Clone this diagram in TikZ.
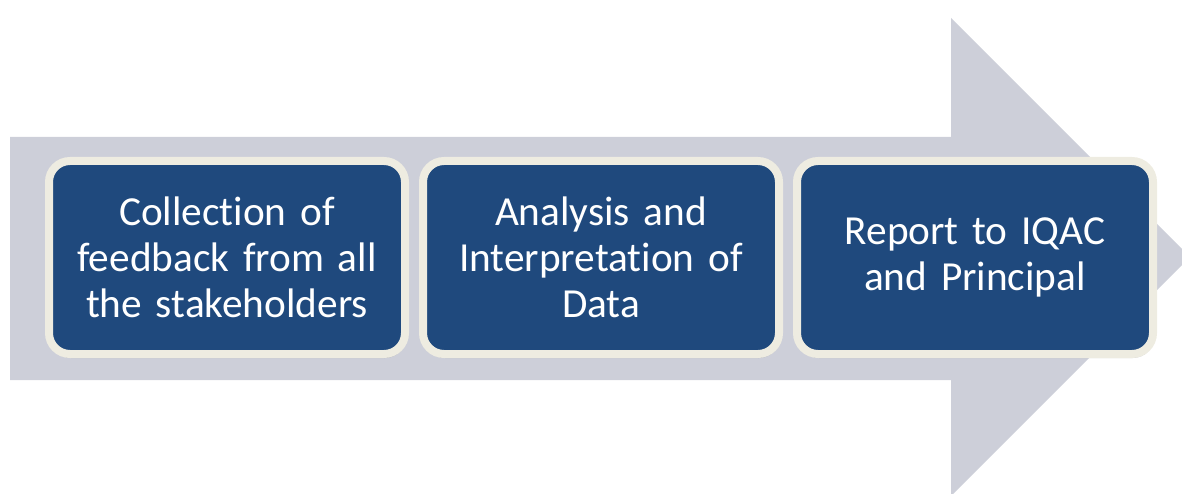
\documentclass[tikz,border=0pt]{standalone}
\usepackage{fontspec}
\setmainfont{Carlito}[WordSpace=0.8, Ligatures=NoCommon]
\usetikzlibrary{shadows}
\definecolor{arrowgray}{HTML}{CDCFD9}
\definecolor{boxblue}{HTML}{1F497D}
\definecolor{boxcream}{HTML}{EEECE1}
\tikzset{
  stepbox/.style={rectangle, rounded corners=21pt, draw=boxcream, line width=8pt,
    fill=boxblue, minimum width=356pt, minimum height=193pt, text width=340pt,
    align=center, text=white, font=\fontsize{41.3}{46}\selectfont,
    drop shadow={shadow xshift=1pt, shadow yshift=-4pt, opacity=0.25, fill=black!70}}
}
\begin{document}
\begin{tikzpicture}[x=1pt,y=-1pt]
\useasboundingbox (0,0) rectangle (1182,494);
\begin{scope}
\clip (0,0) rectangle (1182,494);
\fill[arrowgray] (10,137) -- (951,137) -- (951,18) -- (1190,257) -- (951,496) -- (951,380) -- (10,380) -- cycle;
\end{scope}
\node[stepbox] (b1) at (227,257.5) {Collection of\\feedback from all\\the stakeholders};
\node[stepbox] (b2) at (601,257.5) {Analysis and\\Interpretation of\\Data};
\node[stepbox] (b3) at (975,257.5) {Report to IQAC\\and Principal};
\end{tikzpicture}
\end{document}
